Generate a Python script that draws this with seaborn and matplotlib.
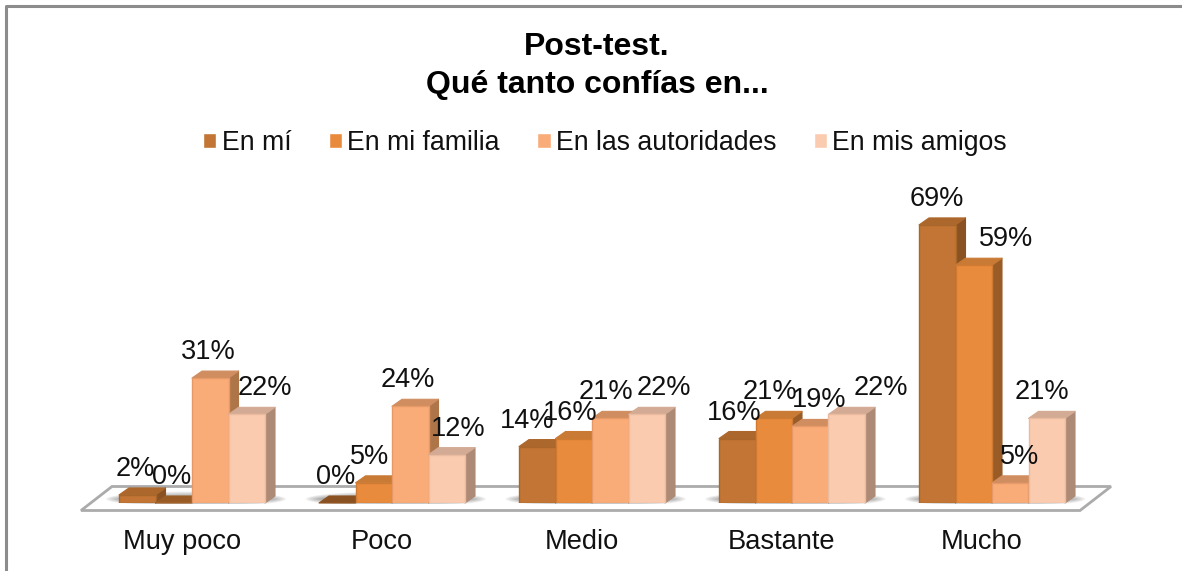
import numpy as np
import pandas as pd
import matplotlib
matplotlib.use("Agg")
import matplotlib.pyplot as plt
from matplotlib.patches import Polygon, Ellipse, Rectangle
from matplotlib.lines import Line2D
from matplotlib.transforms import Affine2D
import seaborn as sns

categories = ["Muy poco", "Poco", "Medio", "Bastante", "Mucho"]
en_mi = [2, 0, 14, 16, 69]
en_mi_familia = [0, 5, 16, 21, 59]
en_las_autoridades = [31, 24, 21, 19, 5]
en_mis_amigos = [22, 12, 22, 22, 21]
series_names = ["En mí", "En mi familia", "En las autoridades", "En mis amigos"]
series_values = [en_mi, en_mi_familia, en_las_autoridades, en_mis_amigos]
title = "Post-test.\nQué tanto confías en..."

front_colors = ["#C27534", "#E98B3D", "#FAAC78", "#FBCBB0"]
side_colors = ["#8A5222", "#9A5C27", "#AE7549", "#AC8A76"]
top_colors = ["#AC672C", "#C97A34", "#D08D60", "#D3AA94"]
edge_colors = ["#A96629", "#CF7B33", "#E79A68", "#EBBBA0"]

# label nudges in pixels from the bar's top centre (series x category)
label_dx = [[-2, -2, -10, -3, 0],
            [-2, -4, -4, -4, 32],
            [-2, -2, -4, 9, 9],
            [18, 11, 17, 34, -5]]
label_rise = 26

W, H = 1182, 571
plt.rcParams["font.family"] = ["Liberation Sans", "DejaVu Sans"]
sns.set_theme(style="white", rc={"font.family": ["Liberation Sans", "DejaVu Sans"]})

df = pd.DataFrame({
    "cat": np.repeat(categories, len(series_names)),
    "serie": series_names * len(categories),
    "v": [series_values[s][c] for c in range(len(categories)) for s in range(len(series_names))],
})

fig = plt.figure(figsize=(W / 100, H / 100), dpi=100, facecolor="white")
px_left, px_w, px_base, px_per_pct, ymax = 92, 1000, 503, 4.03, 75
ax = fig.add_axes([px_left / W, (H - px_base) / H, px_w / W, ymax * px_per_pct / H])
px = Affine2D().scale(1 / W, -1 / H).translate(0, 1) + fig.transFigure

sns.barplot(data=df, x="cat", y="v", hue="serie", order=categories, hue_order=series_names,
            palette=front_colors, width=0.73, gap=0, saturation=1, ax=ax, legend=True, errorbar=None)
ax.set_xlim(-0.5, 4.5)
ax.set_ylim(0, ymax)
ax.patch.set_alpha(0)
ax.set_xlabel("")
ax.set_ylabel("")
ax.set_yticks([])
ax.tick_params(axis="x", length=0, pad=19, labelsize=19.6, labelcolor="#111111")
for sp in ax.spines.values():
    sp.set_visible(False)
# Category labels sit a little left of their groups
shift = Affine2D().translate(-10, 0)
for lab in ax.get_xticklabels():
    lab.set_transform(lab.get_transform() + shift)

# Chart frame: top and left edges only show in the crop
fig.add_artist(Line2D([6, 6, W], [H, 6, 6], transform=px, color="#8C8C8C", lw=2.2))

# Floor slab
ax.add_patch(Polygon([(112, 486.5), (1111, 486.5), (1080, 510.5), (81, 510.5)], closed=True,
                     transform=px, fc="white", ec="#ABABAB", lw=2.0, zorder=0.5, clip_on=False,
                     joinstyle="miter"))

# Soft floor shadows, kept behind the bars' base line
shadow_clip = Rectangle((80, 488), 1040, 15.5, transform=px)
for c in range(len(categories)):
    cx = 192 + 199.8 * c + 4
    for k in range(10):
        f = 1 - k / 10
        shadow = Ellipse((cx, 499), 136 + 44 * f, 15 * f, transform=px,
                         fc="#606060", ec="none", alpha=0.09, zorder=0.7)
        ax.add_patch(shadow)
        shadow.set_clip_path(shadow_clip)

# 3D sides on each bar, taken from the bars' own geometry
dx = 10 / (px_w / 5)
dy = 7 / px_per_pct
for s, cont in enumerate(ax.containers):
    for c, bar in enumerate(cont):
        x0, w, h = bar.get_x(), bar.get_width(), bar.get_height()
        x1 = x0 + w
        z = 3 + 2 * s
        if h > 0:
            ax.add_patch(Polygon([(x1, 0), (x1 + dx, dy), (x1 + dx, h + dy), (x1, h)], closed=True,
                                 fc=side_colors[s], ec=side_colors[s], lw=0.8, zorder=z,
                                 clip_on=False, joinstyle="round"))
        ax.add_patch(Polygon([(x0, h), (x0 + dx, h + dy), (x1 + dx, h + dy), (x1, h)], closed=True,
                             fc=top_colors[s] if h > 0 else side_colors[s],
                             ec=top_colors[s] if h > 0 else side_colors[s], lw=0.8, zorder=z,
                             clip_on=False, joinstyle="round"))
        bar.set_zorder(z + 1)
        bar.set_edgecolor(edge_colors[s])
        bar.set_linewidth(1.0)
        ax.annotate(f"{h:.0f}%", xy=(x0 + w / 2, h), xytext=(label_dx[s][c], label_rise),
                    textcoords="offset pixels", ha="center", va="center", fontsize=19.5,
                    color="#111111", zorder=30, annotation_clip=False)

sns.move_legend(ax, "center", bbox_to_anchor=(605 / W, 1 - 143 / H), bbox_transform=fig.transFigure,
                ncol=4, frameon=False, title=None, fontsize=19.2, handlelength=0.5, handleheight=0.5,
                handletextpad=0.2, columnspacing=1.4, borderpad=0, labelcolor="#111111")

fig.text(597 / W, 1 - 66 / H, title, ha="center", va="center", fontsize=23, fontweight="bold",
         color="black", linespacing=1.32)

fig.savefig("out.png", dpi=100, facecolor="white")
